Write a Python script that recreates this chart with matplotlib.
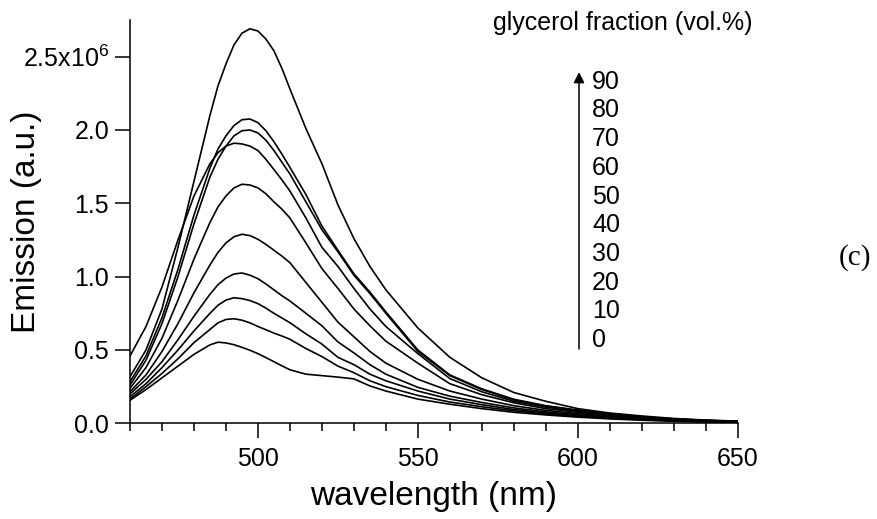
import matplotlib
matplotlib.use("Agg")
import matplotlib.pyplot as plt
from matplotlib.ticker import FixedLocator, MultipleLocator

plt.rcParams["font.family"] = ["Liberation Sans", "DejaVu Sans"]
plt.rcParams["mathtext.fontset"] = "custom"
plt.rcParams["mathtext.rm"] = "Liberation Sans"

# wavelength grid (nm)
wavelength = [460, 465, 470, 475, 480, 485,
              487.5, 490, 492.5, 495, 497.5, 500, 502.5, 505, 507.5, 510,
              515, 520, 525, 530, 535, 540,
              550, 560, 570, 580, 590, 600, 610, 620, 630, 640, 650]

# emission in units of 1e6 a.u., one list per glycerol fraction
em_0 = [0.157, 0.23, 0.31, 0.39, 0.47, 0.535,
        0.553, 0.548, 0.536, 0.518, 0.498, 0.475, 0.448, 0.42, 0.392, 0.365,
        0.335, 0.325, 0.315, 0.303, 0.255, 0.22,
        0.165, 0.13, 0.10, 0.075, 0.057, 0.042, 0.030, 0.021, 0.014, 0.009, 0.006]
em_10 = [0.165, 0.25, 0.34, 0.44, 0.55, 0.64,
         0.685, 0.708, 0.713, 0.703, 0.685, 0.66, 0.638, 0.615, 0.595, 0.573,
         0.51, 0.455, 0.39, 0.345, 0.29, 0.25,
         0.19, 0.145, 0.113, 0.085, 0.063, 0.047, 0.034, 0.024, 0.016, 0.011, 0.007]
em_20 = [0.181, 0.27, 0.38, 0.50, 0.63, 0.75,
         0.805, 0.84, 0.856, 0.85, 0.837, 0.816, 0.785, 0.75, 0.718, 0.686,
         0.61, 0.54, 0.45, 0.40, 0.335, 0.29,
         0.22, 0.165, 0.127, 0.094, 0.070, 0.052, 0.038, 0.027, 0.018, 0.012, 0.008]
em_30 = [0.20, 0.30, 0.42, 0.57, 0.73, 0.88,
         0.945, 0.99, 1.018, 1.025, 1.01, 0.986, 0.95, 0.91, 0.87, 0.834,
         0.75, 0.665, 0.555, 0.48, 0.40, 0.335,
         0.245, 0.185, 0.142, 0.105, 0.078, 0.058, 0.042, 0.030, 0.020, 0.013, 0.009]
em_40 = [0.216, 0.33, 0.49, 0.68, 0.89, 1.08,
         1.165, 1.23, 1.272, 1.289, 1.28, 1.255, 1.22, 1.18, 1.14, 1.095,
         0.96, 0.825, 0.69, 0.59, 0.49, 0.41,
         0.30, 0.22, 0.165, 0.120, 0.088, 0.066, 0.048, 0.034, 0.023, 0.015, 0.010]
em_50 = [0.239, 0.38, 0.58, 0.84, 1.12, 1.37,
         1.475, 1.55, 1.605, 1.63, 1.625, 1.605, 1.565, 1.51, 1.46, 1.40,
         1.23, 1.055, 0.92, 0.78, 0.665, 0.56,
         0.41, 0.27, 0.195, 0.140, 0.100, 0.075, 0.055, 0.038, 0.026, 0.017, 0.011]
em_60 = [0.459, 0.66, 0.93, 1.25, 1.55, 1.77,
         1.845, 1.89, 1.91, 1.905, 1.89, 1.86, 1.80, 1.73, 1.66, 1.584,
         1.40, 1.20, 1.07, 0.92, 0.78, 0.66,
         0.475, 0.305, 0.215, 0.150, 0.110, 0.082, 0.060, 0.042, 0.028, 0.019, 0.012]
em_70 = [0.261, 0.43, 0.68, 1.00, 1.36, 1.68,
         1.80, 1.89, 1.96, 1.995, 2.00, 1.98, 1.93, 1.86, 1.78, 1.70,
         1.51, 1.32, 1.17, 1.01, 0.885, 0.75,
         0.49, 0.325, 0.230, 0.160, 0.118, 0.088, 0.063, 0.044, 0.030, 0.020, 0.013]
em_80 = [0.284, 0.46, 0.72, 1.05, 1.42, 1.74,
         1.87, 1.96, 2.03, 2.07, 2.075, 2.05, 1.995, 1.92, 1.835, 1.745,
         1.56, 1.345, 1.18, 1.02, 0.895, 0.76,
         0.50, 0.33, 0.235, 0.164, 0.120, 0.090, 0.065, 0.045, 0.030, 0.020, 0.013]
em_90 = [0.318, 0.50, 0.78, 1.20, 1.65, 2.10,
         2.30, 2.45, 2.58, 2.66, 2.69, 2.675, 2.62, 2.54, 2.42, 2.28,
         2.01, 1.77, 1.49, 1.26, 1.07, 0.91,
         0.65, 0.45, 0.31, 0.210, 0.150, 0.100, 0.070, 0.050, 0.033, 0.022, 0.015]

fractions = ["0", "10", "20", "30", "40", "50", "60", "70", "80", "90"]
series = [em_0, em_10, em_20, em_30, em_40, em_50, em_60, em_70, em_80, em_90]

y_ticks = [0.0, 0.5, 1.0, 1.5, 2.0, 2.5]
y_ticklabels = ["0.0", "0.5", "1.0", "1.5", "2.0", r"2.5x10$^{6}$"]
x_ticks = [500, 550, 600, 650]

W, H = 877, 519
fig = plt.figure(figsize=(W / 100, H / 100), dpi=100)
ax = fig.add_axes([130 / W, 1 - 423.3 / H, (737.7 - 130) / W, (423.3 - 20) / H])

for ys in series:
    ax.plot(wavelength, ys, color="black", lw=1.2)

ax.set_xlim(460, 650)
ax.set_ylim(0, 2.75)
ax.xaxis.set_major_locator(FixedLocator(x_ticks))
ax.xaxis.set_minor_locator(MultipleLocator(10))
ax.yaxis.set_major_locator(FixedLocator(y_ticks))
ax.set_yticklabels(y_ticklabels)

for side in ("top", "right"):
    ax.spines[side].set_visible(False)
for side in ("left", "bottom"):
    ax.spines[side].set_linewidth(1.1)
ax.tick_params(axis="both", which="major", direction="out", length=11, width=1.1,
               labelsize=18)
ax.tick_params(axis="x", which="major", pad=6)
ax.tick_params(axis="y", which="major", pad=4)
ax.tick_params(axis="x", which="minor", direction="out", length=6, width=1.1)

ax.set_xlabel("wavelength (nm)", fontsize=24, va="center")
ax.set_ylabel("Emission (a.u.)", fontsize=24, va="center")
ax.xaxis.set_label_coords(0.5, (423.3 - 496) / (423.3 - 20))
ax.yaxis.set_label_coords((27 - 130) / (737.7 - 130), 0.5)

# glycerol fraction key: arrow with stacked labels
fig.text(623 / W, 1 - 23 / H, "glycerol fraction (vol.%)", fontsize=18,
         ha="center", va="center")
ax.annotate("", xy=(579 / W, 1 - 72 / H), xytext=(579 / W, 1 - 349 / H),
            xycoords="figure fraction", textcoords="figure fraction",
            arrowprops=dict(arrowstyle="-|>", color="black", lw=1.1,
                            mutation_scale=16, shrinkA=0, shrinkB=0))
top_y, step = 81.7, 28.7
for i, lab in enumerate(reversed(fractions)):
    fig.text(592 / W, 1 - (top_y + i * step) / H, lab, fontsize=18,
             ha="left", va="center")

fig.text(855 / W, 1 - 258 / H, "(c)", fontsize=21, family="Liberation Serif",
         ha="center", va="center")

fig.savefig("out.png", dpi=100)
